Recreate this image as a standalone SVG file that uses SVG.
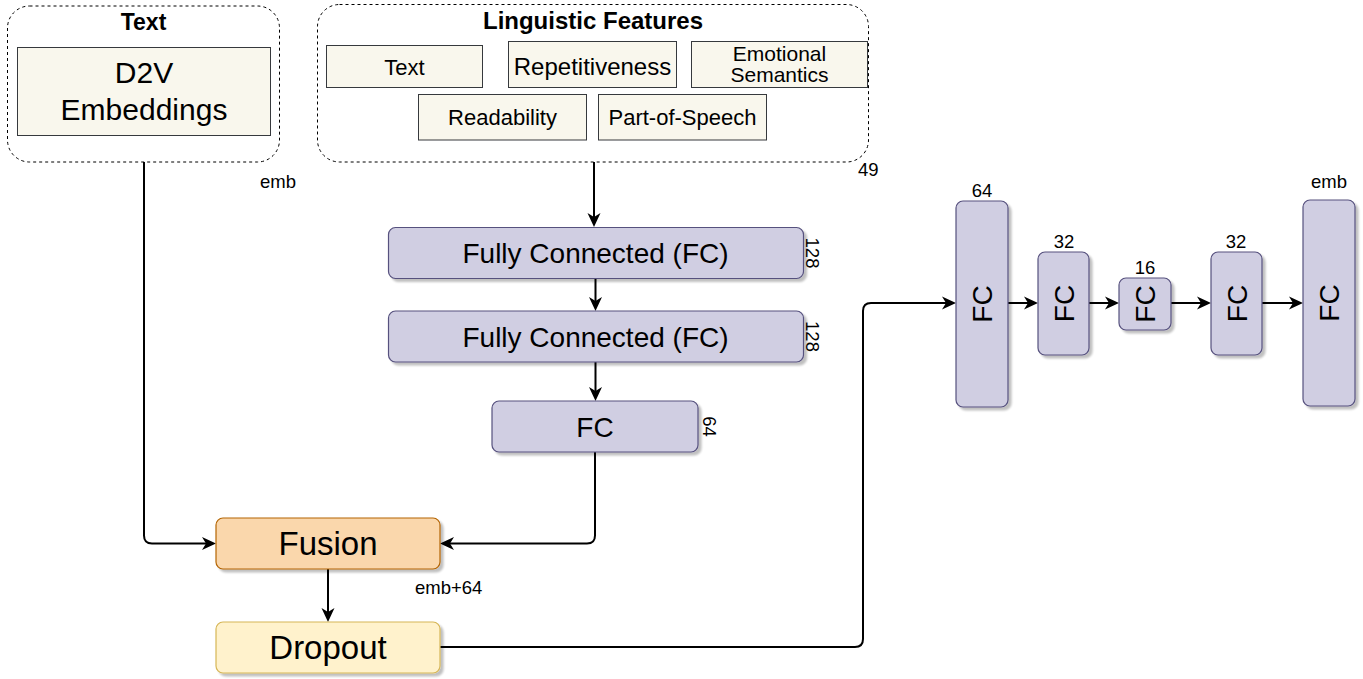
<svg xmlns="http://www.w3.org/2000/svg" width="1363" height="679" viewBox="0 0 1363 679">
<style>
text{font-family:"Liberation Sans",Arial,Helvetica,sans-serif;fill:#000}
.cont{fill:none;stroke:#000;stroke-width:1;stroke-dasharray:3 3}
.feat{fill:#f9f7ed;stroke:#36393d;stroke-width:1}
.fc{fill:#d0cee2;stroke:#56517e;stroke-width:1.2}
.fus{fill:#fad7ac;stroke:#b46504;stroke-width:1.2}
.drop{fill:#fff2cc;stroke:#d6b656;stroke-width:1.2}
.edge{fill:none;stroke:#000;stroke-width:2;marker-end:url(#arr)}
.title{font-weight:bold;font-size:23px;text-anchor:middle}
.ft{font-size:22px;text-anchor:middle}
.big{font-size:28px;text-anchor:middle}
.lbl{font-size:18.5px}
.c{text-anchor:middle}
</style>
<defs>
<marker id="arr" markerUnits="userSpaceOnUse" viewBox="0 0 14 14" markerWidth="14" markerHeight="14" refX="10" refY="7" orient="auto">
<path d="M0,0.5 L14,7 L0,13.5 L4,7 Z" fill="#000"/>
</marker>
<filter id="sh" x="-10%" y="-10%" width="130%" height="130%">
<feGaussianBlur in="SourceAlpha" stdDeviation="0.8"/>
<feOffset dx="3" dy="3" result="o"/>
<feComponentTransfer><feFuncA type="linear" slope="0.25"/></feComponentTransfer>
<feMerge><feMergeNode/><feMergeNode in="SourceGraphic"/></feMerge>
</filter>
</defs>

<g id="connectors">
<path class="edge" d="M144,162 V535.5 Q144,543.5 152,543.5 H212"/>
<path class="edge" d="M594,162 V223"/>
<path class="edge" d="M595.5,278 V307"/>
<path class="edge" d="M595.5,362 V397"/>
<path class="edge" d="M595,452 V535.5 Q595,543.5 587,543.5 H444"/>
<path class="edge" d="M328,569 V618"/>
<path class="edge" d="M440,647 H855 Q863,647 863,639 V311 Q863,303 871,303 H952"/>
<path class="edge" d="M1008,303 H1034"/>
<path class="edge" d="M1089,303 H1115"/>
<path class="edge" d="M1171,303 H1207"/>
<path class="edge" d="M1262,303 H1299"/>
</g>

<g id="text-group">
<rect class="cont" x="7.5" y="6" width="272" height="156" rx="22"/>
<text class="title" x="143.5" y="29.5">Text</text>
</g>
<g id="d2v">
<rect class="feat" x="17.5" y="47.5" width="253" height="88"/>
<text class="c" style="font-size:30px" x="144" y="83">D2V</text>
<text class="c" style="font-size:30px" x="144" y="120">Embeddings</text>
</g>
<text class="lbl" x="260" y="188">emb</text>

<g id="linguistic-features">
<rect class="cont" x="317.5" y="4.5" width="551" height="157.5" rx="22"/>
<text class="title" style="font-size:24px" x="593" y="29">Linguistic Features</text>
</g>
<g id="feat-text">
<rect class="feat" x="326.5" y="45.5" width="156" height="42"/>
<text class="ft" x="404.5" y="75">Text</text>
</g>
<g id="feat-repetitiveness">
<rect class="feat" x="508.5" y="41.5" width="168" height="46"/>
<text class="ft" style="font-size:24px" x="592.5" y="75">Repetitiveness</text>
</g>
<g id="feat-emotional">
<rect class="feat" x="691.5" y="41.5" width="176" height="46"/>
<text class="ft" style="font-size:21px" x="779.5" y="60.5">Emotional</text>
<text class="ft" style="font-size:21px" x="779.5" y="81.5">Semantics</text>
</g>
<g id="feat-readability">
<rect class="feat" x="418.5" y="94.5" width="168" height="45.5"/>
<text class="ft" x="502.5" y="125">Readability</text>
</g>
<g id="feat-pos">
<rect class="feat" x="598.5" y="94.5" width="168" height="45.5"/>
<text class="ft" x="682.5" y="125">Part-of-Speech</text>
</g>
<text class="lbl" x="858" y="176">49</text>

<g id="fc1">
<rect class="fc" filter="url(#sh)" x="388.5" y="227.5" width="415" height="51" rx="7"/>
<text class="big" x="595.5" y="263">Fully Connected (FC)</text>
<text class="lbl c" transform="translate(806,253) rotate(90)">128</text>
</g>
<g id="fc2">
<rect class="fc" filter="url(#sh)" x="388.5" y="311" width="415" height="51" rx="7"/>
<text class="big" x="595.5" y="347">Fully Connected (FC)</text>
<text class="lbl c" transform="translate(806,336.5) rotate(90)">128</text>
</g>
<g id="fc3">
<rect class="fc" filter="url(#sh)" x="492" y="401" width="206" height="51" rx="7"/>
<text class="big" x="595" y="437">FC</text>
<text class="lbl c" transform="translate(703,426.5) rotate(90)">64</text>
</g>

<g id="fusion">
<rect class="fus" filter="url(#sh)" x="216" y="518" width="224" height="51" rx="7"/>
<text class="c" style="font-size:33px" x="328" y="555">Fusion</text>
</g>
<text class="lbl" x="415" y="594">emb+64</text>
<g id="dropout">
<rect class="drop" filter="url(#sh)" x="216" y="622" width="224" height="51" rx="7"/>
<text class="c" style="font-size:33px" x="328" y="659">Dropout</text>
</g>

<g id="fc-64">
<rect class="fc" filter="url(#sh)" x="956" y="201" width="52" height="206" rx="7"/>
<text class="big" transform="translate(982,304) rotate(-90)" y="10">FC</text>
<text class="lbl c" x="982" y="197">64</text>
</g>
<g id="fc-32a">
<rect class="fc" filter="url(#sh)" x="1038" y="252" width="51" height="103" rx="7"/>
<text class="big" transform="translate(1063.5,303.5) rotate(-90)" y="10">FC</text>
<text class="lbl c" x="1064" y="248">32</text>
</g>
<g id="fc-16">
<rect class="fc" filter="url(#sh)" x="1119" y="278" width="52" height="52" rx="7"/>
<text class="big" transform="translate(1145,304) rotate(-90)" y="10">FC</text>
<text class="lbl c" x="1145" y="274">16</text>
</g>
<g id="fc-32b">
<rect class="fc" filter="url(#sh)" x="1211" y="252" width="51" height="103" rx="7"/>
<text class="big" transform="translate(1236.5,303.5) rotate(-90)" y="10">FC</text>
<text class="lbl c" x="1236" y="248">32</text>
</g>
<g id="fc-emb">
<rect class="fc" filter="url(#sh)" x="1303" y="200" width="52" height="206" rx="7"/>
<text class="big" transform="translate(1329,303) rotate(-90)" y="10">FC</text>
<text class="lbl c" x="1329" y="188">emb</text>
</g>
</svg>
